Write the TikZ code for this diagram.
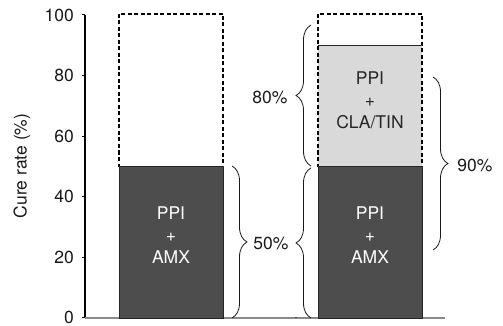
\documentclass[tikz,border=0pt]{standalone}
\usepackage{fontspec}
\setmainfont{TeX Gyre Heros}
\usetikzlibrary{decorations.pathreplacing}
\definecolor{barDark}{HTML}{4D4D4D}
\definecolor{barLight}{HTML}{D9D9D9}
\definecolor{baseGray}{HTML}{8A8A8A}
\begin{document}
\begin{tikzpicture}[x=1pt,y=-1pt,
  every node/.style={font=\fontsize{17.5}{22}\selectfont, inner sep=0pt},
  dashbox/.style={draw=black, dash pattern=on 4pt off 2.5pt, line width=1.1pt},
  darkbar/.style={fill=barDark, draw=black!85, line width=0.8pt},
  lightbar/.style={fill=barLight},
  brc/.style={decorate, decoration={brace, amplitude=15pt}, line width=0.8pt, draw=black!90},
  barlbl/.style={text=white, align=center},
  greylbl/.style={text=black!85, align=center},
  axis/.style={draw=black, line width=1.1pt},
  tick/.style={draw=black, line width=1pt},
  ticklbl/.style={anchor=east, text=black!90}]
\useasboundingbox (0,0) rectangle (503,326);
% axes
\draw[axis] (85,15) coordinate (ytop) -- (85,318) coordinate (orig);
\draw[draw=baseGray, line width=1.4pt] (orig) -- (445,318) coordinate (xend);
\draw[draw=black!70, line width=1.4pt] (295,317.3) coordinate (sepA) -- (296.5,317.3) coordinate (sepB);
\foreach \v/\yy in {0/317,20/257.4,40/196.8,60/136.2,80/75.6,100/15}{
  \draw[tick] (82,\yy) coordinate (tk\v) -- (85,\yy);
  \node[ticklbl] (lbl\v) at (74,\yy) {\v};
}
\node[rotate=90, text=black!90] (ylab) at (22,166) {Cure rate (\%)};
% left column
\draw[dashbox] (119,14) rectangle (223,166.5);
\draw[darkbar] (119,166.5) rectangle (223,318);
\node[barlbl] (lA) at (171,235) {PPI\\+\\AMX};
% right column
\fill[lightbar] (318,45) rectangle (422,166.5);
\draw[dashbox] (318,14) rectangle (422,166.5);
\draw[draw=black!85, line width=0.9pt] (318,45) coordinate (lt1) -- (422,45) coordinate (lt2);
\draw[draw=white!60!black, dash pattern=on 3pt off 2pt, line width=0.8pt] (318,166.5) -- (422,166.5);
\draw[darkbar] (318,166.5) rectangle (422,318);
\node[barlbl] (rA) at (370,235) {PPI\\+\\AMX};
\node[greylbl] (rB) at (370,100) {PPI\\+\\CLA/TIN};
% braces
\coordinate (b1s) at (232,166); \coordinate (b1e) at (232,318);
\draw[brc] (b1s) -- (b1e);
\coordinate (b2s) at (311,318); \coordinate (b2e) at (311,168);
\draw[brc] (b2s) -- (b2e);
\coordinate (b3s) at (311,166); \coordinate (b3e) at (311,25);
\draw[brc] (b3s) -- (b3e);
\coordinate (b4s) at (433,77); \coordinate (b4e) at (433,250);
\draw[brc] (b4s) -- (b4e);
\node[text=black!90] (p50) at (271,243) {50\%};
\node[text=black!90] (p80) at (270,97) {80\%};
\node[text=black!90] (p90) at (475,165) {90\%};
\end{tikzpicture}
\end{document}
